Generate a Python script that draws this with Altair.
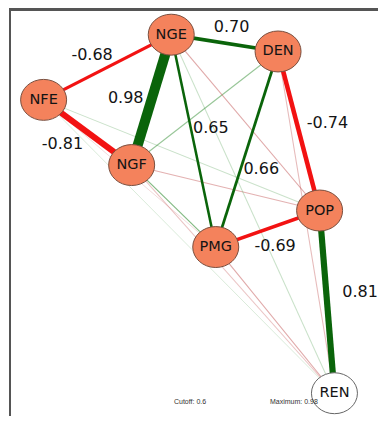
import altair as alt
import pandas as pd

# ---- data ----
nodes = ["NGE", "DEN", "NFE", "NGF", "POP", "PMG", "REN"]
node_x = [172, 280, 43, 132, 322, 217, 337]
node_y = [34, 51, 100, 166, 212, 249, 397]
node_group = ["main", "main", "main", "main", "main", "main", "outcome"]

# strong edges (|r| >= cutoff)
src = ["NGE", "NFE", "NGE", "NFE", "NGE", "DEN", "DEN", "PMG", "POP"]
dst = ["DEN", "NGE", "NGF", "NGF", "PMG", "PMG", "POP", "POP", "REN"]
wts = [0.70, -0.68, 0.98, -0.81, 0.65, 0.66, -0.74, -0.69, 0.81]
lab_x = [233, 92, 126, 62, 212, 263, 330, 277, 363]
lab_y = [26, 55, 98, 145, 128, 170, 123, 248, 295]

# weak edges (below cutoff)
wsrc = ["DEN", "NGE", "NGF", "NFE", "NGE", "DEN", "NGF", "NGF", "NFE", "PMG", "NFE"]
wdst = ["NGF", "POP", "POP", "POP", "REN", "REN", "PMG", "REN", "REN", "REN", "PMG"]
wwts = [0.45, -0.45, -0.40, 0.22, 0.22, -0.35, 0.55, -0.30, 0.15, -0.45, -0.18]

cutoff_text = "Cutoff: 0.6"
max_text = "Maximum: 0.98"

W, H = 370, 408
X0, Y0 = 8, 8

pos = {n: (x, y) for n, x, y in zip(nodes, node_x, node_y)}


def edge_df(s, d, w, strong):
    rows = []
    for a, b, v in zip(s, d, w):
        rows.append({
            "x": pos[a][0], "y": pos[a][1],
            "x2": pos[b][0], "y2": pos[b][1],
            "w": v, "aw": abs(v),
            "kind": ("pos" if v > 0 else "neg") + ("" if strong else "_weak"),
        })
    return pd.DataFrame(rows)


edges = pd.concat([edge_df(wsrc, wdst, wwts, False), edge_df(src, dst, wts, True)],
                  ignore_index=True)
nodes_df = pd.DataFrame({"name": nodes, "x": node_x, "y": node_y, "group": node_group})
labels_df = pd.DataFrame({"x": lab_x, "y": lab_y, "t": [f"{v:.2f}" for v in wts]})
foot_df = pd.DataFrame({"x": [191, 296], "y": [406, 406], "t": [cutoff_text, max_text]})

xs = alt.Scale(domain=[X0, X0 + W], nice=False, zero=False)
ys = alt.Scale(domain=[Y0, Y0 + H], nice=False, zero=False, reverse=True)
X = lambda f="x": alt.X(f, type="quantitative", scale=xs, axis=None)
Y = lambda f="y": alt.Y(f, type="quantitative", scale=ys, axis=None)

edge_layer = alt.Chart(edges).mark_rule(strokeCap="butt").encode(
    x=X(), y=Y(), x2="x2:Q", y2="y2:Q",
    color=alt.Color("kind:N", legend=None, scale=alt.Scale(
        domain=["pos", "neg", "pos_weak", "neg_weak"],
        range=["#0a640a", "#f21212", "#2e8b2e", "#c05050"])),
    strokeWidth=alt.StrokeWidth("aw:Q", legend=None, scale=alt.Scale(
        domain=[0, 0.599, 0.6, 1.0], range=[0.9, 1.2, 1.4, 10.5])),
    opacity=alt.Opacity("aw:Q", legend=None, scale=alt.Scale(
        domain=[0, 0.599, 0.6, 1.0], range=[0.03, 0.65, 1, 1])),
)

ellipse = "M-1,0 A1,0.89,0,1,1,1,0 A1,0.89,0,1,1,-1,0 Z"
node_layer = alt.Chart(nodes_df).mark_point(
    shape=ellipse, size=2116, filled=True, strokeWidth=1, opacity=1,
).encode(
    x=X(), y=Y(),
    fill=alt.Fill("group:N", legend=None,
                  scale=alt.Scale(domain=["main", "outcome"], range=["#F4825C", "#FFFFFF"])),
    stroke=alt.Stroke("group:N", legend=None,
                      scale=alt.Scale(domain=["main", "outcome"], range=["#7a5040", "#666666"])),
)

node_text = alt.Chart(nodes_df).mark_text(
    font="DejaVu Sans", fontSize=14.5, color="#141414", baseline="middle", align="center"
).encode(x=X(), y=Y(), text="name:N")

label_layer = alt.Chart(labels_df).mark_text(
    font="DejaVu Sans", fontSize=16, color="#141414", baseline="middle", align="center"
).encode(x=X(), y=Y(), text="t:N")

foot_layer = alt.Chart(foot_df).mark_text(
    font="Liberation Sans", fontSize=7, color="#333333", baseline="middle", align="center"
).encode(x=X(), y=Y(), text="t:N")

border_left = alt.Chart(nodes_df).mark_rule(color="#555555", strokeWidth=2).encode(
    x=alt.value(1), y=alt.value(0), y2=alt.value(H))
border_top = alt.Chart(nodes_df).mark_rule(color="#555555", strokeWidth=2).encode(
    x=alt.value(0), x2=alt.value(W), y=alt.value(0.5))

chart = alt.layer(
    edge_layer, node_layer, node_text, label_layer, foot_layer, border_left, border_top
).properties(
    width=W, height=H, padding=0,
    autosize=alt.AutoSizeParams(type="fit", contains="padding"),
).configure_view(stroke=None)

chart.save("out.html", embed_options={"renderer": "svg", "actions": False})
